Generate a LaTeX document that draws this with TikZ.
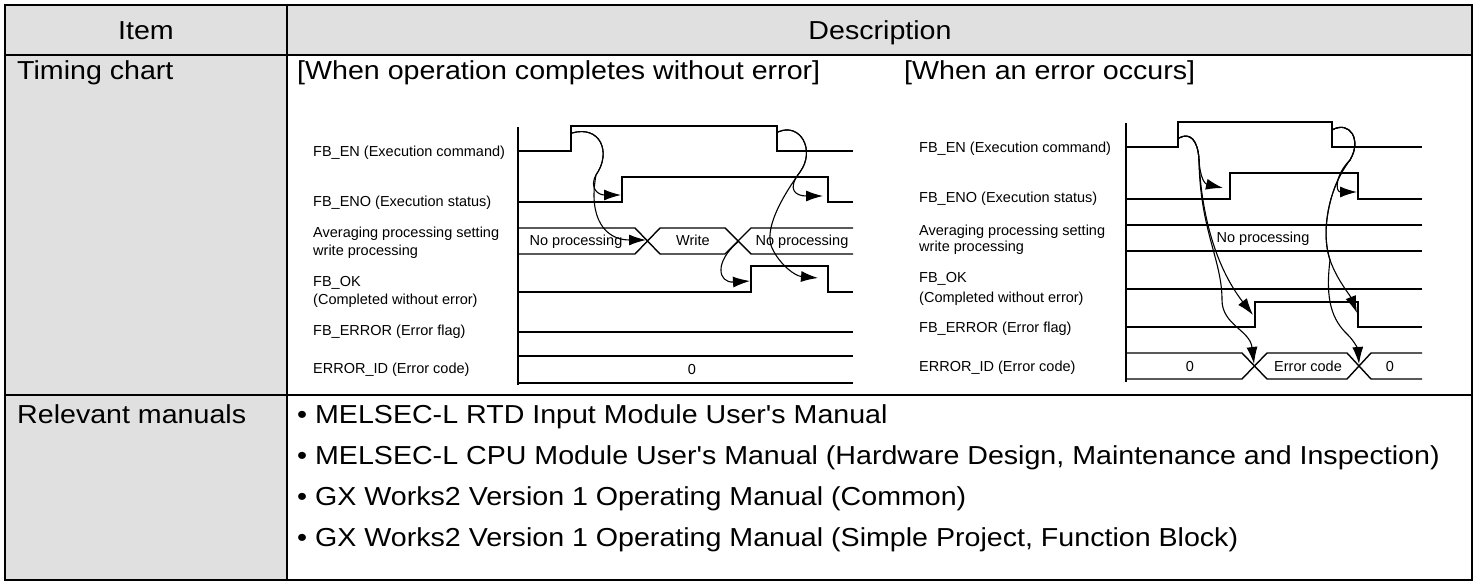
\documentclass[tikz,border=0pt]{standalone}
\usepackage{fontspec}
\setmainfont{Liberation Sans}
\newfontfamily\widesans{Liberation Sans}[FakeStretch=1.1]
\usetikzlibrary{arrows.meta}
\definecolor{cellgray}{RGB}{224,224,224}

\tikzset{
  frame/.style={line width=2.4pt},
  sig/.style={line width=1.4pt, line join=miter},
  axisline/.style={line width=1.4pt},
  cause/.style={line width=1.1pt, -{Latex[length=17pt,width=11pt]}},
  big/.style={font=\widesans\fontsize{26}{30}\selectfont, inner sep=0pt},
  bigw/.style={big, anchor=base west},
  lbl/.style={font=\fontsize{14.5}{17}\selectfont, anchor=base west, inner sep=0pt},
  val/.style={font=\fontsize{14.5}{17}\selectfont, anchor=base, inner sep=0pt},
}

\begin{document}
\begin{tikzpicture}[x=1pt,y=-1pt]
\useasboundingbox (0,0) rectangle (1477,585);
\fill[white] (0,0) rectangle (1477,585);

% table cells
\fill[cellgray] (5,5) rectangle (1472,55);
\fill[cellgray] (5,55) rectangle (287,580);
\draw[frame] (5,5) rectangle (1472,580);
\draw[frame] (5,55) -- (1472,55);
\draw[frame] (5,395) -- (1472,395);
\draw[frame] (287,5) -- (287,580);

% header and row titles
\node[big, anchor=base] (hItem) at (146,40) {Item};
\node[big, anchor=base] (hDesc) at (880,40) {Description};
\node[bigw] (rowTiming) at (17,80) {Timing chart};
\node[bigw] (rowManuals) at (17,423) {Relevant manuals};
\node[bigw] (headOK) at (297,80) {[When operation completes without error]};
\node[bigw] (headErr) at (904,80) {[When an error occurs]};

% manuals list
\node[bigw] (man1) at (297,423) {• MELSEC-L RTD Input Module User's Manual};
\node[bigw] (man2) at (297,464) {• MELSEC-L CPU Module User's Manual (Hardware Design, Maintenance and Inspection)};
\node[bigw] (man3) at (297,505) {• GX Works2 Version 1 Operating Manual (Common)};
\node[bigw] (man4) at (297,546) {• GX Works2 Version 1 Operating Manual (Simple Project, Function Block)};

% ---------------- normal completion chart ----------------
\node[lbl] (lEN)  at (313,157) {FB\_EN (Execution command)};
\node[lbl] (lENO) at (313,207) {FB\_ENO (Execution status)};
\node[lbl] (lAvg) at (313,238) {Averaging processing setting};
\node[lbl] (lAvgB) at (313,255) {write processing};
\node[lbl] (lOK)  at (313,287) {FB\_OK};
\node[lbl] (lOKB) at (313,305) {(Completed without error)};
\node[lbl] (lERR) at (313,335) {FB\_ERROR (Error flag)};
\node[lbl] (lID)  at (313,373) {ERROR\_ID (Error code)};

\draw[axisline] (518,127) -- (518,385);
\draw[sig] (518,151) -| (571,126) -| (777,151) -- (853,151);
\draw[sig] (518,202) -| (622,177) -| (828,202) -- (853,202);
\draw[sig] (518,228) -- (635,228) -- (660,254) -- (725,254) -- (751,228) -- (853,228);
\draw[sig] (518,254) -- (635,254) -- (660,228) -- (725,228) -- (751,254) -- (853,254);
\draw[sig] (518,292) -| (751,266) -| (828,292) -- (853,292);
\draw[sig] (518,332) -- (853,332);
\draw[sig] (518,356) -- (853,356);
\draw[sig] (518,383) -- (853,383);

\node[val] (lNo1) at (576,246) {No processing};
\node[val] (lWr)  at (693,246) {Write};
\node[val] (lNo2) at (802,246) {No processing};
\node[val] (lZero) at (692,374) {0};

\coordinate (LenRise) at (572,133);
\coordinate (LenRiseK) at (596,175);
\coordinate (LenoRise) at (621,195);
\coordinate (LcrossA) at (646,240);
\coordinate (LcrossB) at (738,242);
\coordinate (LokRise) at (750,281);
\coordinate (LenFall) at (778,132);
\coordinate (LenFallK) at (800,172);
\coordinate (LenoFall) at (823,196);
\coordinate (LokFall) at (818,278);

\draw[cause] (LenRise) .. controls (600,125) and (612,152) .. (LenRiseK)
  .. controls (589,188) and (598,195) .. (LenoRise);
\draw[cause] (LenRise) .. controls (600,125) and (612,152) .. (LenRiseK)
  .. controls (588,218) and (605,240) .. (LcrossA);
\draw[cause] (LcrossB) .. controls (714,262) and (718,283) .. (LokRise);
\draw[cause] (LenFall) .. controls (800,122) and (816,150) .. (LenFallK)
  .. controls (786,190) and (796,196) .. (LenoFall);
\draw[cause] (LenFall) .. controls (800,122) and (816,150) .. (LenFallK)
  .. controls (780,200) and (764,230) .. (772,248)
  .. controls (780,265) and (795,276) .. (LokFall);

% ---------------- error chart ----------------
\node[lbl] (rEN)  at (919,153) {FB\_EN (Execution command)};
\node[lbl] (rENO) at (919,203) {FB\_ENO (Execution status)};
\node[lbl] (rAvg) at (919,236) {Averaging processing setting};
\node[lbl] (rAvgB) at (919,252) {write processing};
\node[lbl] (rOK)  at (919,283) {FB\_OK};
\node[lbl] (rOKB) at (919,302) {(Completed without error)};
\node[lbl] (rERR) at (919,332) {FB\_ERROR (Error flag)};
\node[lbl] (rID)  at (919,371) {ERROR\_ID (Error code)};

\draw[axisline] (1126,123) -- (1126,382);
\draw[sig] (1126,147) -| (1178,122) -| (1332,147) -- (1422,147);
\draw[sig] (1126,199) -| (1230,173) -| (1358,199) -- (1422,199);
\draw[sig] (1126,225) -- (1422,225);
\draw[sig] (1126,251) -- (1422,251);
\draw[sig] (1126,289) -- (1422,289);
\draw[sig] (1126,327) -| (1255,302) -| (1358,327) -- (1422,327);
\draw[sig] (1126,353) -- (1242,353) -- (1267,379) -- (1347,379) -- (1371,353) -- (1422,353);
\draw[sig] (1126,379) -- (1242,379) -- (1267,353) -- (1347,353) -- (1371,379) -- (1422,379);

\node[val] (rNo) at (1263,243) {No processing};
\node[val] (rZeroA) at (1190,371) {0};
\node[val] (rCode) at (1308,371) {Error code};
\node[val] (rZeroB) at (1390,371) {0};

\coordinate (RenRise) at (1179,138);
\coordinate (RenRiseK) at (1199,160);
\coordinate (RenoRise) at (1223,188);
\coordinate (RerrRise) at (1253,315);
\coordinate (RcrossA) at (1254,364);
\coordinate (RenFall) at (1332,130);
\coordinate (RenFallK) at (1350,160);
\coordinate (RenoFall) at (1357,192);
\coordinate (RenFallM) at (1330,260);
\coordinate (RerrFall) at (1357,313);
\coordinate (RcrossB) at (1359,364);

\draw[cause] (RenRise) .. controls (1190,132) and (1198,140) .. (RenRiseK)
  .. controls (1200,178) and (1205,184) .. (RenoRise);
\draw[cause] (RenRise) .. controls (1190,132) and (1198,140) .. (RenRiseK)
  .. controls (1201,210) and (1214,265) .. (RerrRise);
\draw[cause] (RenRise) .. controls (1190,132) and (1198,140) .. (RenRiseK)
  .. controls (1200,230) and (1222,260) .. (1222,300)
  .. controls (1222,325) and (1250,330) .. (RcrossA);
\draw[cause] (RenFall) .. controls (1350,120) and (1362,140) .. (RenFallK)
  .. controls (1335,175) and (1335,192) .. (RenoFall);
\draw[cause] (RenFall) .. controls (1350,120) and (1362,140) .. (RenFallK)
  .. controls (1330,185) and (1320,230) .. (RenFallM)
  .. controls (1337,280) and (1350,295) .. (RerrFall);
\draw[cause] (RenFall) .. controls (1350,120) and (1362,140) .. (RenFallK)
  .. controls (1330,185) and (1320,230) .. (RenFallM)
  .. controls (1325,300) and (1332,320) .. (1348,335)
  .. controls (1355,342) and (1358,350) .. (RcrossB);
\end{tikzpicture}
\end{document}
